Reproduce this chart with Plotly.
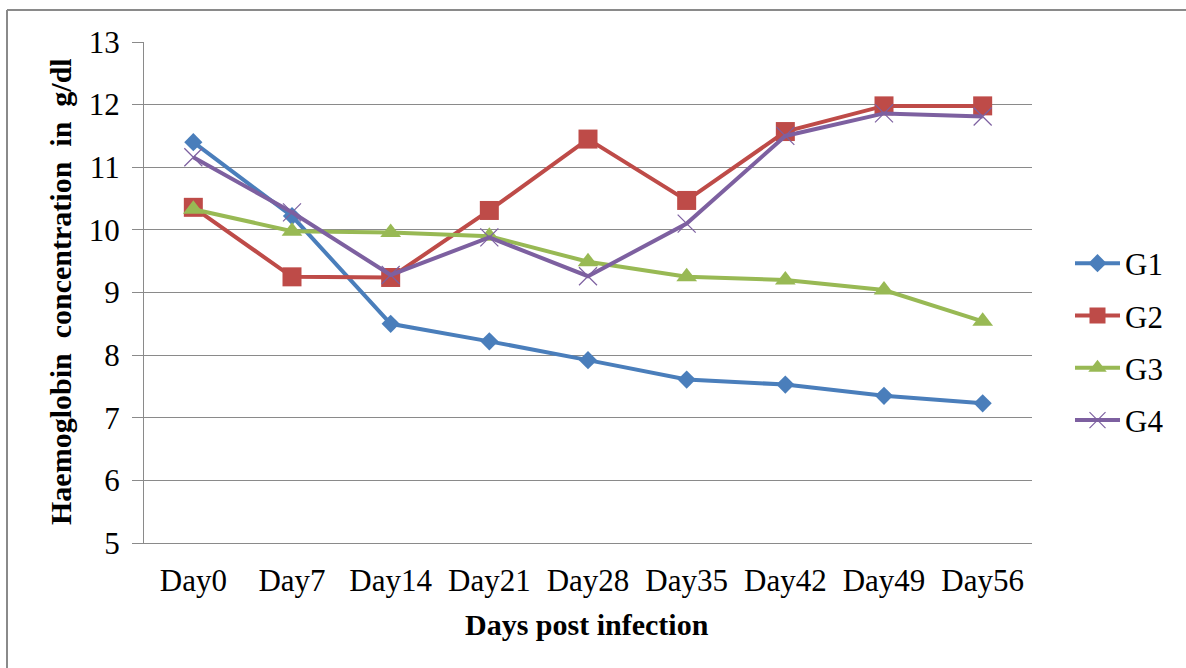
import plotly.graph_objects as go

# Sampling days (x categories)
days = ["Day0", "Day7", "Day14", "Day21", "Day28", "Day35", "Day42", "Day49", "Day56"]

# Haemoglobin concentration (g/dl) per group
g1 = [11.40, 10.22, 8.50, 8.22, 7.92, 7.61, 7.53, 7.35, 7.23]
g2 = [10.36, 9.25, 9.24, 10.31, 11.45, 10.47, 11.57, 11.98, 11.98]
g3 = [10.33, 9.98, 9.96, 9.90, 9.49, 9.25, 9.20, 9.04, 8.54]
g4 = [11.16, 10.28, 9.28, 9.88, 9.26, 10.10, 11.50, 11.86, 11.81]

y_ticks = [5, 6, 7, 8, 9, 10, 11, 12, 13]

W, H = 1186, 668
L, R, T, B = 144, 154, 42, 125

FONT = "Liberation Serif, Times New Roman, serif"
GRID = "#8a8a8a"

series = [
    ("G1", g1, "#4A7EBB", dict(symbol="diamond", size=14)),
    ("G2", g2, "#BE4B48", dict(symbol="square", size=19)),
    ("G3", g3, "#98B954", dict(symbol="triangle-up", size=18)),
    ("G4", g4, "#7D60A0", dict(symbol="x-thin-open", size=18, line=dict(width=1.2))),
]

fig = go.Figure()
for name, vals, color, mk in series:
    marker = dict(color=color, **mk)
    if "line" in marker:
        marker["line"]["color"] = color
    fig.add_trace(go.Scatter(
        x=days, y=vals, name=name, mode="lines+markers",
        line=dict(color=color, width=4),
        marker=marker,
        legendgroup=name,
    ))

pw = W - L - R
ph = H - T - B


def px_x(x):
    return (x - L) / pw


def px_y(y):
    return (H - B - y) / ph


fig.update_layout(
    width=W, height=H,
    margin=dict(l=L, r=R, t=T, b=B, autoexpand=False),
    paper_bgcolor="white", plot_bgcolor="white",
    font=dict(family=FONT, color="black", size=31),
    showlegend=True,
    legend=dict(
        x=px_x(1070), xanchor="left",
        y=px_y(342), yanchor="middle",
        font=dict(size=31, family=FONT),
        itemwidth=45,
        tracegroupgap=9,
        bgcolor="rgba(0,0,0,0)",
    ),
    xaxis=dict(
        type="category", categoryorder="array", categoryarray=days,
        range=[-0.5, len(days) - 0.5],
        showgrid=False, zeroline=False,
        showline=True, linecolor=GRID, linewidth=1.2,
        ticks="outside", ticklen=10, tickcolor="rgba(0,0,0,0)",
        tickfont=dict(size=31, family=FONT),
        automargin=False,
    ),
    yaxis=dict(
        range=[5, 13], tickvals=y_ticks,
        showgrid=True, gridcolor=GRID, gridwidth=1.2,
        zeroline=False,
        showline=True, linecolor=GRID, linewidth=1.2,
        ticks="outside", ticklen=11, tickcolor=GRID, tickwidth=1.2,
        ticklabelstandoff=6,
        tickfont=dict(size=31, family=FONT),
        automargin=False,
    ),
    annotations=[
        dict(text="<b>Days post infection</b>", xref="paper", yref="paper",
             x=px_x(587), y=px_y(625), xanchor="center", yanchor="middle",
             showarrow=False, font=dict(size=30, family=FONT)),
        dict(text="<b>Haemoglobin  concentration  in  g/dl</b>", xref="paper", yref="paper",
             x=px_x(60), y=px_y(292), xanchor="center", yanchor="middle",
             textangle=-90, showarrow=False, font=dict(size=30, family=FONT)),
    ],
    shapes=[
        # outer frame (top and left edges)
        dict(type="line", xref="paper", yref="paper",
             x0=px_x(7), x1=px_x(W + 5), y0=px_y(10), y1=px_y(10),
             line=dict(color=GRID, width=2)),
        dict(type="line", xref="paper", yref="paper",
             x0=px_x(7), x1=px_x(7), y0=px_y(10), y1=px_y(H + 5),
             line=dict(color=GRID, width=2)),
    ],
)

fig.write_html("out.html")
